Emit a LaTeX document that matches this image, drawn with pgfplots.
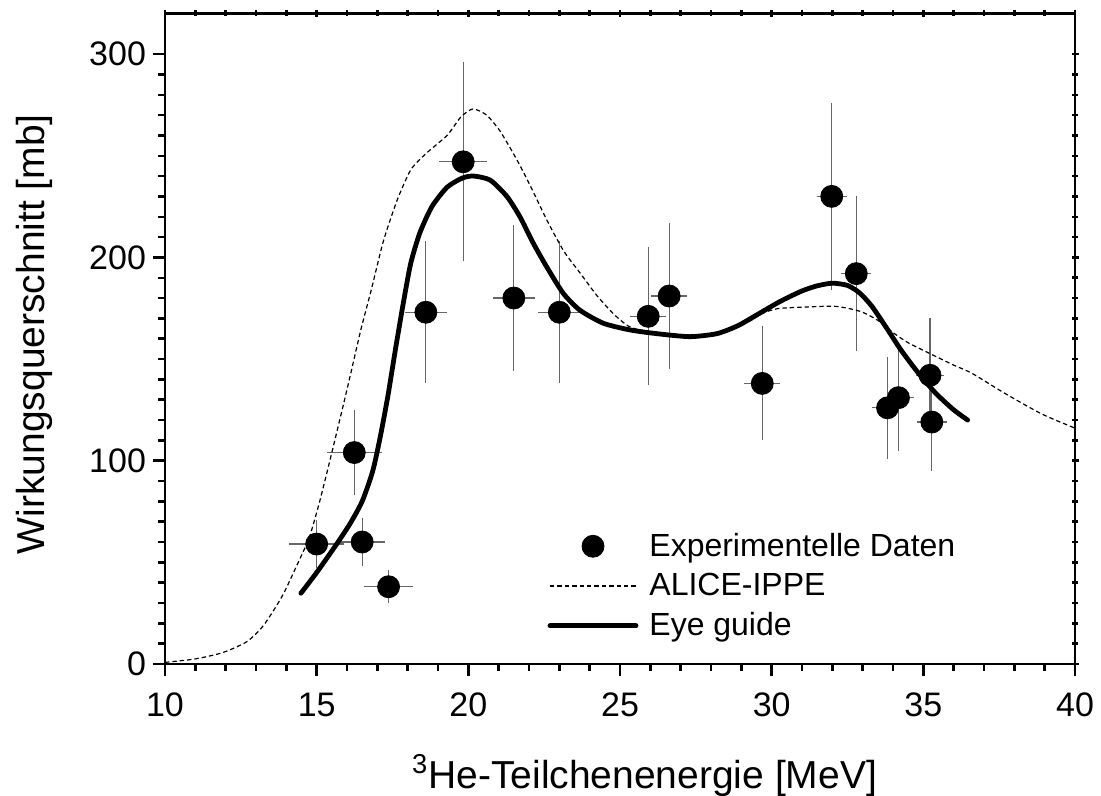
\documentclass[border=0pt]{standalone}
\usepackage{pgfplots}
\pgfplotsset{compat=1.18}
\usepackage{pgfplotstable}
\usepackage{fontspec}
\setmainfont{Liberation Sans}

\pgfplotsset{
  longline legend/.style={
    legend image code/.code={\draw[##1] (0pt,0pt) -- (43pt,0pt);}},
  dot legend/.style={
    legend image code/.code={\draw[##1] plot coordinates {(21.5pt,0pt)};}},
}

% measured cross sections with energy and cross-section uncertainties
\pgfplotstableread{
x      y    ex    ey
15.00  59   0.90  12
16.24  104  0.90  21
16.50  60   0.75  12
17.37  38   0.80  8
18.60  173  0.70  35
19.83  247  0.80  49
21.50  180  0.70  36
23.00  173  0.70  35
25.93  171  0.60  34
26.62  181  0.60  36
29.69  138  0.60  28
31.98  230  0.50  46
32.79  192  0.50  38
33.82  126  0.50  25
34.18  131  0.50  26
35.22  142  0.45  28
35.28  119  0.50  24
}\expdata

% ALICE-IPPE model calculation
\pgfplotstableread{
x     y
10.0  0.8
11.0  2.5
11.9  5.6
12.7  11
13.25 19
13.85 33
14.3  47
14.75 62
15.1  80
15.5  104
16.0  135
16.45 164
16.8  184
17.2  208
17.65 228
18.1  243
18.6  251
19.3  260
19.75 269
20.15 273
20.6  270
21.05 262
21.6  248
22.05 235
22.6  218
23.15 203
23.7  192
24.25 181
24.8  172
25.3  166
25.9  163.5
27.3  161
28.5  163.5
29.2  168
29.7  172.5
30.2  174.8
31.0  175.5
32.0  176
32.5  175
33.0  173
33.5  169
34.0  163
34.5  158
35.2  152.8
36.0  147
36.6  143
37.7  133
38.9  123
40.0  116
}\alice

% guide curve through the data
\pgfplotstableread{
x     y
14.48 34.8
15.0  45
15.66 59
16.1  69
16.5  80
16.85 95
17.1  112
17.35 132
17.6  155
17.85 177
18.1  197
18.4  212
18.8  225
19.3  234.5
19.8  239
20.17 240
20.72 238
21.27 230
21.7  220
22.14 207
22.58 195.4
23.13 182.3
23.68 174
24.45 167.6
25.33 164.3
26.2  162.5
27.3  161
28.2  162.5
28.9  166.5
29.6  172.5
30.3  178.5
31.0  183.5
31.5  186
32.0  187.3
32.5  186.2
32.9  182.5
33.3  176
33.8  165
34.26 154.5
34.84 143
35.42 133
36.0  125
36.46 120
}\guide

\begin{document}
\begin{tikzpicture}
\useasboundingbox (0,0) rectangle (550.5pt,398pt);
\begin{axis}[
  at={(82.5pt,66pt)}, anchor=south west,
  scale only axis, width=455pt, height=325.3pt,
  xmin=10, xmax=40, ymin=0, ymax=320,
  xtick={10,15,...,40}, ytick={0,100,200,300},
  minor x tick num=4, minor y tick num=9,
  xtick pos=left, ytick pos=left,
  tick align=outside,
  major tick length=6pt, minor tick length=3.3pt,
  every tick/.style={black, line width=1.2pt},
  axis line style={line width=1.2pt},
  /pgf/number format/assume math mode=true,
  ticklabel style={font=\fontsize{17}{17}\selectfont},
  xticklabel style={yshift=-5pt},
  xlabel={\textsuperscript{3}He-Teilchenenergie [MeV]},
  ylabel={Wirkungsquerschnitt [mb]},
  xlabel style={at={(axis description cs:0.527,-0.192)}, anchor=base,
    font=\fontsize{19.5}{20}\selectfont},
  ylabel style={at={(axis description cs:-0.143,0.507)}, anchor=center,
    font=\fontsize{19.5}{20}\selectfont},
  legend style={draw=none, fill=none, at={(axis cs:22.6,66.5)},
    anchor=north west, inner sep=0pt, row sep=3pt,
    font=\fontsize{16}{18}\selectfont,
    /tikz/every odd column/.append style={column sep=3.5pt}},
  legend cell align=left,
]
\addplot[only marks, mark=*, mark size=5.5pt, black, dot legend,
  error bars/.cd, x dir=both, x explicit, y dir=both, y explicit,
  error mark=none,
  error bar style={line width=0.6pt, black!60}]
  table[x=x, y=y, x error=ex, y error=ey] {\expdata};
\addlegendentry{Experimentelle Daten}
\addplot[black, line width=0.6pt, dash pattern=on 2.2pt off 1.5pt, smooth, tension=0.4,
  longline legend]
  table[x=x, y=y] {\alice};
\addlegendentry{ALICE-IPPE}
\addplot[black, line width=2.4pt, line cap=round, smooth, tension=0.4,
  longline legend]
  table[x=x, y=y] {\guide};
\addlegendentry{Eye guide}
\end{axis}
% mirrored ticks on the top and right edges
\begin{axis}[
  at={(82.5pt,66pt)}, anchor=south west,
  scale only axis, width=455pt, height=325.3pt,
  xmin=10, xmax=40, ymin=0, ymax=320,
  xtick={10,15,...,40}, ytick={0,100,200,300},
  minor x tick num=4, minor y tick num=9,
  xtick pos=right, ytick pos=right,
  tick align=center,
  major tick length=3.5pt, minor tick length=3pt,
  every tick/.style={black, line width=1.2pt},
  axis line style={line width=1.2pt},
  xticklabels={}, yticklabels={},
]
\end{axis}
\end{tikzpicture}
\end{document}
